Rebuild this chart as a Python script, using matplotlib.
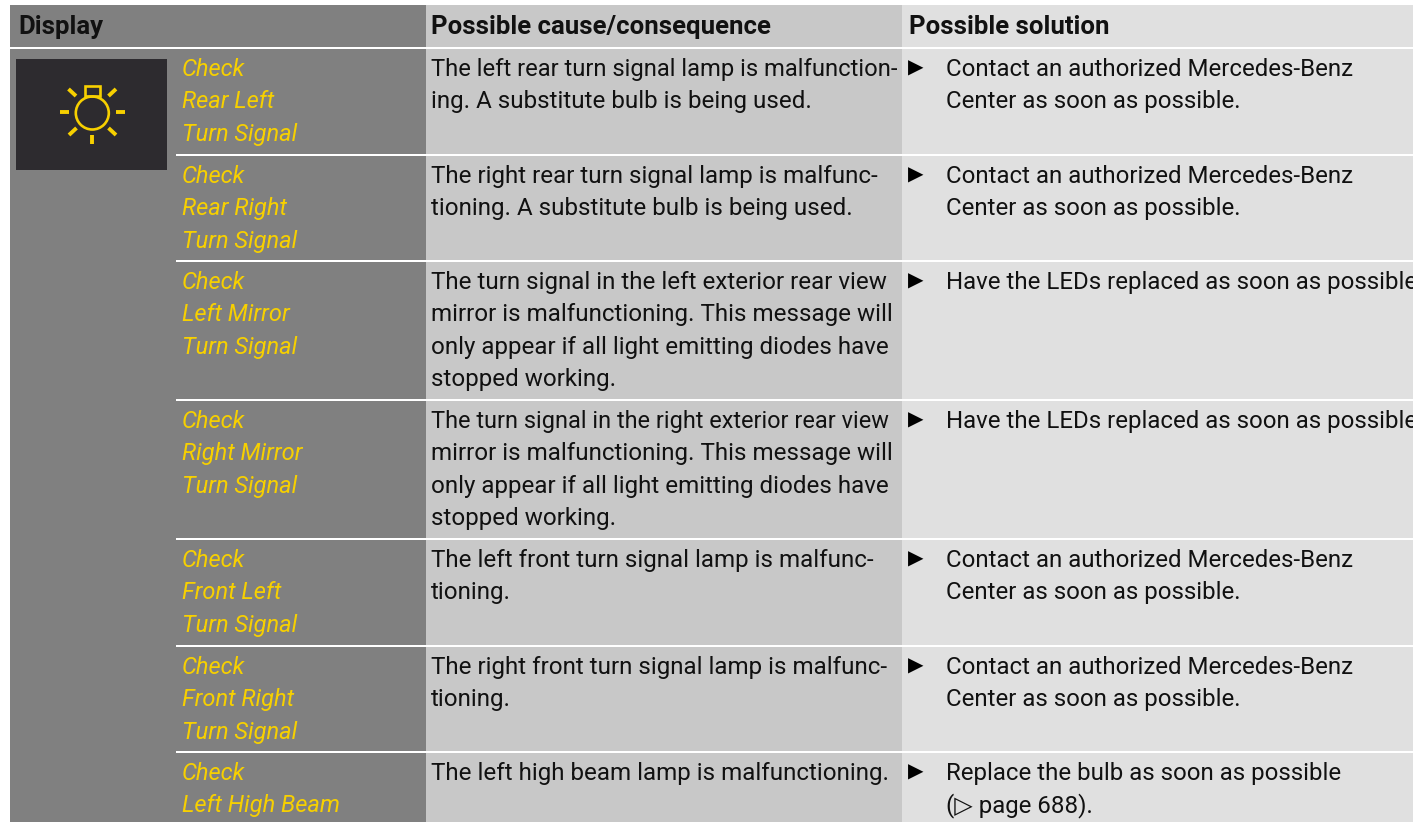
import matplotlib
matplotlib.use("Agg")
import matplotlib.pyplot as plt
from matplotlib.patches import Rectangle, Circle

W, H = 1413, 822

# Table content
headers = ["Display", "Possible cause/consequence", "Possible solution"]
display_rows = [
    ["Check", "Rear Left", "Turn Signal"],
    ["Check", "Rear Right", "Turn Signal"],
    ["Check", "Left Mirror", "Turn Signal"],
    ["Check", "Right Mirror", "Turn Signal"],
    ["Check", "Front Left", "Turn Signal"],
    ["Check", "Front Right", "Turn Signal"],
    ["Check", "Left High Beam"],
]
cause_rows = [
    ["The left rear turn signal lamp is malfunction-", "ing. A substitute bulb is being used."],
    ["The right rear turn signal lamp is malfunc-", "tioning. A substitute bulb is being used."],
    ["The turn signal in the left exterior rear view", "mirror is malfunctioning. This message will",
     "only appear if all light emitting diodes have", "stopped working."],
    ["The turn signal in the right exterior rear view", "mirror is malfunctioning. This message will",
     "only appear if all light emitting diodes have", "stopped working."],
    ["The left front turn signal lamp is malfunc-", "tioning."],
    ["The right front turn signal lamp is malfunc-", "tioning."],
    ["The left high beam lamp is malfunctioning."],
]
solution_rows = [
    ["Contact an authorized Mercedes-Benz", "Center as soon as possible."],
    ["Contact an authorized Mercedes-Benz", "Center as soon as possible."],
    ["Have the LEDs replaced as soon as possible."],
    ["Have the LEDs replaced as soon as possible."],
    ["Contact an authorized Mercedes-Benz", "Center as soon as possible."],
    ["Contact an authorized Mercedes-Benz", "Center as soon as possible."],
    ["Replace the bulb as soon as possible", "(\u25b7 page 688)."],
]
row_tops = [48, 155, 261, 400, 539, 646, 752]

# These lines are set tighter in the original
tight_lines = {
    "The left rear turn signal lamp is malfunction-": 17.1,
    "The turn signal in the right exterior rear view": 16.9,
}

plt.rcParams["font.family"] = ["Roboto", "DejaVu Sans"]
fig = plt.figure(figsize=(W / 100, H / 100), dpi=100, facecolor="white")
ax = fig.add_axes([0, 0, 1, 1])
ax.set_xlim(0, W)
ax.set_ylim(H, 0)
ax.axis("off")


def box(x0, y0, x1, y1, color):
    ax.add_patch(Rectangle((x0, y0), x1 - x0, y1 - y0, fc=color, ec="none"))


# Column backgrounds
box(10, 5, 426, H, "#808080")
box(426, 5, 902, H, "#c8c8c8")
box(902, 5, W, H, "#e0e0e0")

# Row separators
ax.plot([10, W], [48, 48], color="white", lw=1.44, solid_capstyle="butt")
for y in row_tops[1:]:
    ax.plot([176, W], [y, y], color="white", lw=1.44, solid_capstyle="butt")

for x, label in zip([18, 431, 909], headers):
    ax.text(x, 34, label, fontsize=18.5, fontweight="bold", color="#111111", va="baseline")

# Icon
box(16, 59, 167, 170, "#2d2b2f")
yellow = "#f7d000"
ax.add_patch(Circle((92.3, 113), 16.5, fc="none", ec=yellow, lw=1.9))
ax.add_patch(Rectangle((85, 86), 14.5, 10.5, fc="none", ec=yellow, lw=1.9))
for x0, y0, x1, y1 in [(60, 112, 69, 112), (116, 112, 125, 112), (92.3, 135, 92.3, 144),
                       (68.5, 89, 76, 96), (116, 89, 108.5, 96),
                       (69, 135, 76.5, 128), (116, 135, 108.5, 128)]:
    ax.plot([x0, x1], [y0, y1], color=yellow, lw=2.8, solid_capstyle="butt")

# Rows
line_h = 32.3
for top, disp, cause, sol in zip(row_tops, display_rows, cause_rows, solution_rows):
    base = top + 28
    for i, line in enumerate(disp):
        ax.text(182, base + i * line_h, line, fontsize=17, style="italic", color=yellow, va="baseline")
    for i, line in enumerate(cause):
        ax.text(431, base + i * line_h, line, fontsize=tight_lines.get(line, 17.4),
                color="#111111", va="baseline")
    ax.text(908, base - 8, "\u25b6", fontsize=14.5, color="black", va="center",
            family="DejaVu Sans")
    for i, line in enumerate(sol):
        ax.text(946, base + i * line_h, line, fontsize=17.3, color="#111111", va="baseline")

fig.savefig("out.png", dpi=100)
